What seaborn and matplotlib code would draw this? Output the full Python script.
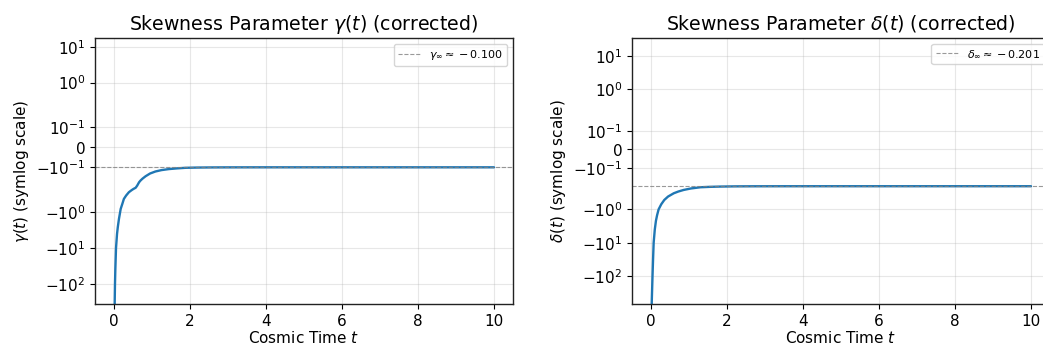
import numpy as np
import pandas as pd
import matplotlib
matplotlib.use("Agg")
import matplotlib.pyplot as plt
import seaborn as sns
from matplotlib.ticker import NullLocator

# ---- data ----
t_gamma = [0.0, 0.01, 0.018, 0.026, 0.035, 0.053, 0.08, 0.1, 0.13, 0.176, 0.22, 0.26,
           0.32, 0.39, 0.44, 0.48, 0.52, 0.57, 0.61, 0.66, 0.7, 0.75, 0.83, 0.95, 1.09,
           1.25, 1.44, 1.65, 1.88, 2.2, 2.6, 3.0, 4.0, 5.0, 6.0, 7.0, 8.0, 9.0, 10.0]
gamma = [-20000, -1000, -350, -100, -40, -10, -4.0, -2.6, -1.54, -0.807, -0.58, -0.424,
         -0.34, -0.277, -0.252, -0.235, -0.221, -0.207, -0.192, -0.175, -0.166, -0.157,
         -0.145, -0.131, -0.121, -0.114, -0.109, -0.1055, -0.1025, -0.1012, -0.1005,
         -0.1002, -0.1, -0.1, -0.1, -0.1, -0.1, -0.1, -0.1]

t_delta = [0.0, 0.01, 0.02, 0.04, 0.055, 0.07, 0.1, 0.13, 0.16, 0.2, 0.27, 0.35, 0.45,
           0.6, 0.72, 0.86, 1.05, 1.3, 1.55, 1.82, 2.2, 2.7, 3.5, 5.0, 6.0, 7.0, 8.0,
           9.0, 10.0]
delta = [-50000, -3000, -600, -100, -30, -10, -4.0, -2.2, -1.5, -1.0, -0.7, -0.52,
         -0.41, -0.327, -0.29, -0.26, -0.235, -0.216, -0.21, -0.206, -0.203, -0.2018,
         -0.2012, -0.201, -0.201, -0.201, -0.201, -0.201, -0.201]

gamma_inf = -0.100
delta_inf = -0.201

x_ticks = [0, 2, 4, 6, 8, 10]

sns.set_style("ticks")
plt.rcParams['font.family'] = ['DejaVu Sans']
plt.rcParams['text.color'] = 'black'
plt.rcParams['axes.labelcolor'] = 'black'
plt.rcParams['xtick.color'] = 'black'
plt.rcParams['ytick.color'] = 'black'

fig = plt.figure(figsize=(10.43, 3.5), dpi=100)
W, H = 1043, 350
ax1 = fig.add_axes([95 / W, (H - 304) / H, 418 / W, 266 / H])
ax2 = fig.add_axes([632 / W, (H - 304) / H, 418 / W, 266 / H])

panels = [
    (ax1, t_gamma, gamma, gamma_inf, r'$\gamma_\infty \approx -0.100$',
     r'Skewness Parameter $\gamma(t)$ (corrected)', r'$\gamma(t)$ (symlog scale)', (-363, 17.5)),
    (ax2, t_delta, delta, delta_inf, r'$\delta_\infty \approx -0.201$',
     r'Skewness Parameter $\delta(t)$ (corrected)', r'$\delta(t)$ (symlog scale)', (-697, 34)),
]

for ax, t, v, inf, lab, title, ylab, ylim in panels:
    df = pd.DataFrame({"t": t, "v": v})
    sns.lineplot(data=df, x="t", y="v", ax=ax, color="#1f77b4", linewidth=1.7)
    ax.axhline(inf, color="gray", linestyle="--", linewidth=0.8, alpha=0.8, label=lab)
    ax.set_yscale("symlog", linthresh=0.2)
    ax.set_ylim(*ylim)
    ax.set_xlim(-0.5, 10.5)
    ax.set_xticks(x_ticks)
    ax.yaxis.set_minor_locator(NullLocator())
    ax.grid(True, color="#b0b0b0", alpha=0.3, linewidth=0.8)
    ax.set_title(title, fontsize=13.6, pad=6)
    ax.set_xlabel(r'Cosmic Time $t$', fontsize=11, labelpad=1)
    ax.set_ylabel(ylab, fontsize=11)
    ax.tick_params(labelsize=11, length=3.5, color="black")
    for s in ax.spines.values():
        s.set_color("#222222")
        s.set_linewidth(1.0)
    ax.legend(loc="upper right", fontsize=8, frameon=True)

fig.savefig("out.png", dpi=100)
